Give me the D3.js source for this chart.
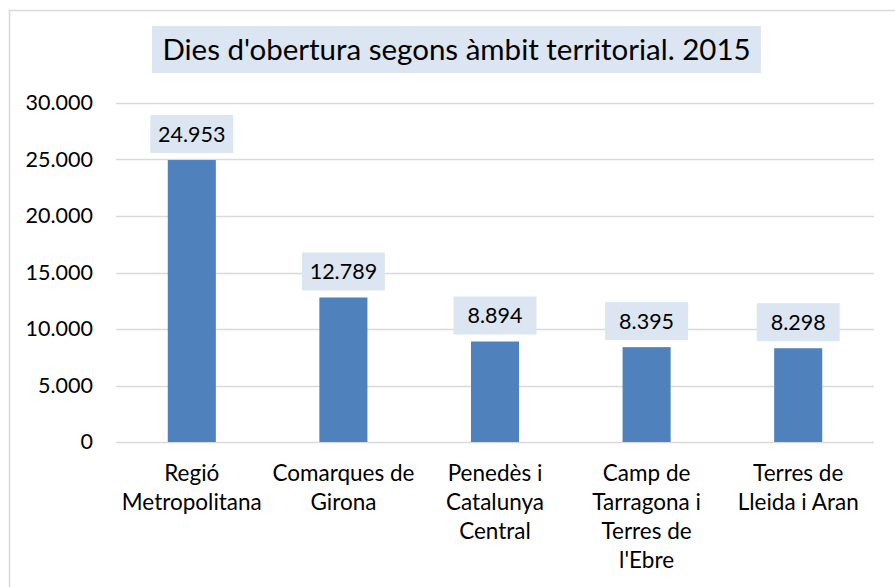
<!DOCTYPE html>
<html>
<head>
<meta charset="utf-8">
<script src="https://cdn.jsdelivr.net/npm/d3@7"></script>
<style>
  html, body { margin: 0; padding: 0; background: #fff; }
  svg { display: block; font-family: Lato, "Open Sans", sans-serif; }
</style>
</head>
<body>
<svg id="chart" width="895" height="587"></svg>
<script>
// dades del gràfic
const titol = "Dies d'obertura segons àmbit territorial. 2015";
const ambits = [
    "Regió\nMetropolitana",
    "Comarques de\nGirona",
    "Penedès i\nCatalunya\nCentral",
    "Camp de\nTarragona i\nTerres de\nl'Ebre",
    "Terres de\nLleida i Aran"
];
const dies = [24953, 12789, 8894, 8395, 8298];
const ticks = [0, 5000, 10000, 15000, 20000, 25000, 30000];

const svg = d3.select('#chart');
const margin = { top: 103, right: 21, bottom: 145, left: 116 };
const width = 895 - margin.left - margin.right;
const height = 587 - margin.top - margin.bottom;

// format català (punt de milers)
const loc = d3.formatLocale({ decimal: ',', thousands: '.', grouping: [3], currency: ['', '€'] });
const fmt = loc.format(',d');

// marc del gràfic
svg.append('rect')
    .attr('x', 9.5).attr('y', 10.5)
    .attr('width', 900).attr('height', 600)
    .attr('fill', 'none')
    .attr('stroke', '#d9d9d9')
    .attr('stroke-width', 1.5);

const g = svg.append('g')
    .attr('transform', `translate(${margin.left},${margin.top})`);

const x = d3.scaleBand()
    .domain(ambits)
    .range([0, width])
    .paddingInner(0.683)
    .paddingOuter(0.3415);

const y = d3.scaleLinear()
    .domain([0, 30000])
    .range([height, 0]);

// línies de quadrícula
g.append('g')
    .selectAll('line')
    .data(ticks)
    .enter().append('line')
    .attr('x1', 0).attr('x2', width)
    .attr('y1', d => Math.round(y(d)) + 0.5)
    .attr('y2', d => Math.round(y(d)) + 0.5)
    .attr('stroke', '#d9d9d9')
    .attr('stroke-width', 1.5);

// eix Y
const yAxis = g.append('g')
    .call(d3.axisLeft(y).tickValues(ticks).tickFormat(fmt).tickSize(0).tickPadding(23));
yAxis.select('.domain').remove();
yAxis.selectAll('text')
    .attr('font-size', 21.5)
    .attr('font-family', 'Lato, sans-serif')
    .attr('fill', '#000');

// barres
g.append('g')
    .selectAll('rect')
    .data(dies)
    .enter().append('rect')
    .attr('x', (d, i) => x(ambits[i]))
    .attr('y', d => y(d))
    .attr('width', x.bandwidth())
    .attr('height', d => height - y(d))
    .attr('fill', '#4f81bd');

// etiquetes de dades
const labels = g.append('g')
    .selectAll('g')
    .data(dies)
    .enter().append('g')
    .attr('transform', (d, i) => `translate(${x(ambits[i]) + x.bandwidth() / 2},${y(d) - 26})`);

labels.append('rect')
    .attr('x', -41.5).attr('y', -19)
    .attr('width', 83).attr('height', 38)
    .attr('fill', '#dce6f2');

labels.append('text')
    .attr('text-anchor', 'middle')
    .attr('dy', '0.36em')
    .attr('font-size', 21.5)
    .attr('fill', '#000')
    .text(d => fmt(d));

// eix X (etiquetes en diverses línies)
const xl = g.append('g')
    .selectAll('text')
    .data(ambits)
    .enter().append('text')
    .attr('text-anchor', 'middle')
    .attr('font-size', 22.5)
    .attr('fill', '#000')
    .attr('x', d => x(d) + x.bandwidth() / 2)
    .attr('y', height + 39);

xl.selectAll('tspan')
    .data(d => d.split('\n'))
    .enter().append('tspan')
    .attr('x', function () { return d3.select(this.parentNode).attr('x'); })
    .attr('dy', (d, i) => i === 0 ? 0 : 29)
    .text(d => d);

// títol
const tg = svg.append('g');
tg.append('rect')
    .attr('x', 152).attr('y', 26)
    .attr('width', 609).attr('height', 47)
    .attr('fill', '#dce6f2');
tg.append('text')
    .attr('x', 456.5).attr('y', 49.5)
    .attr('dy', '0.36em')
    .attr('text-anchor', 'middle')
    .attr('font-size', 29.5)
    .attr('fill', '#000')
    .text(titol);
</script>
</body>
</html>
